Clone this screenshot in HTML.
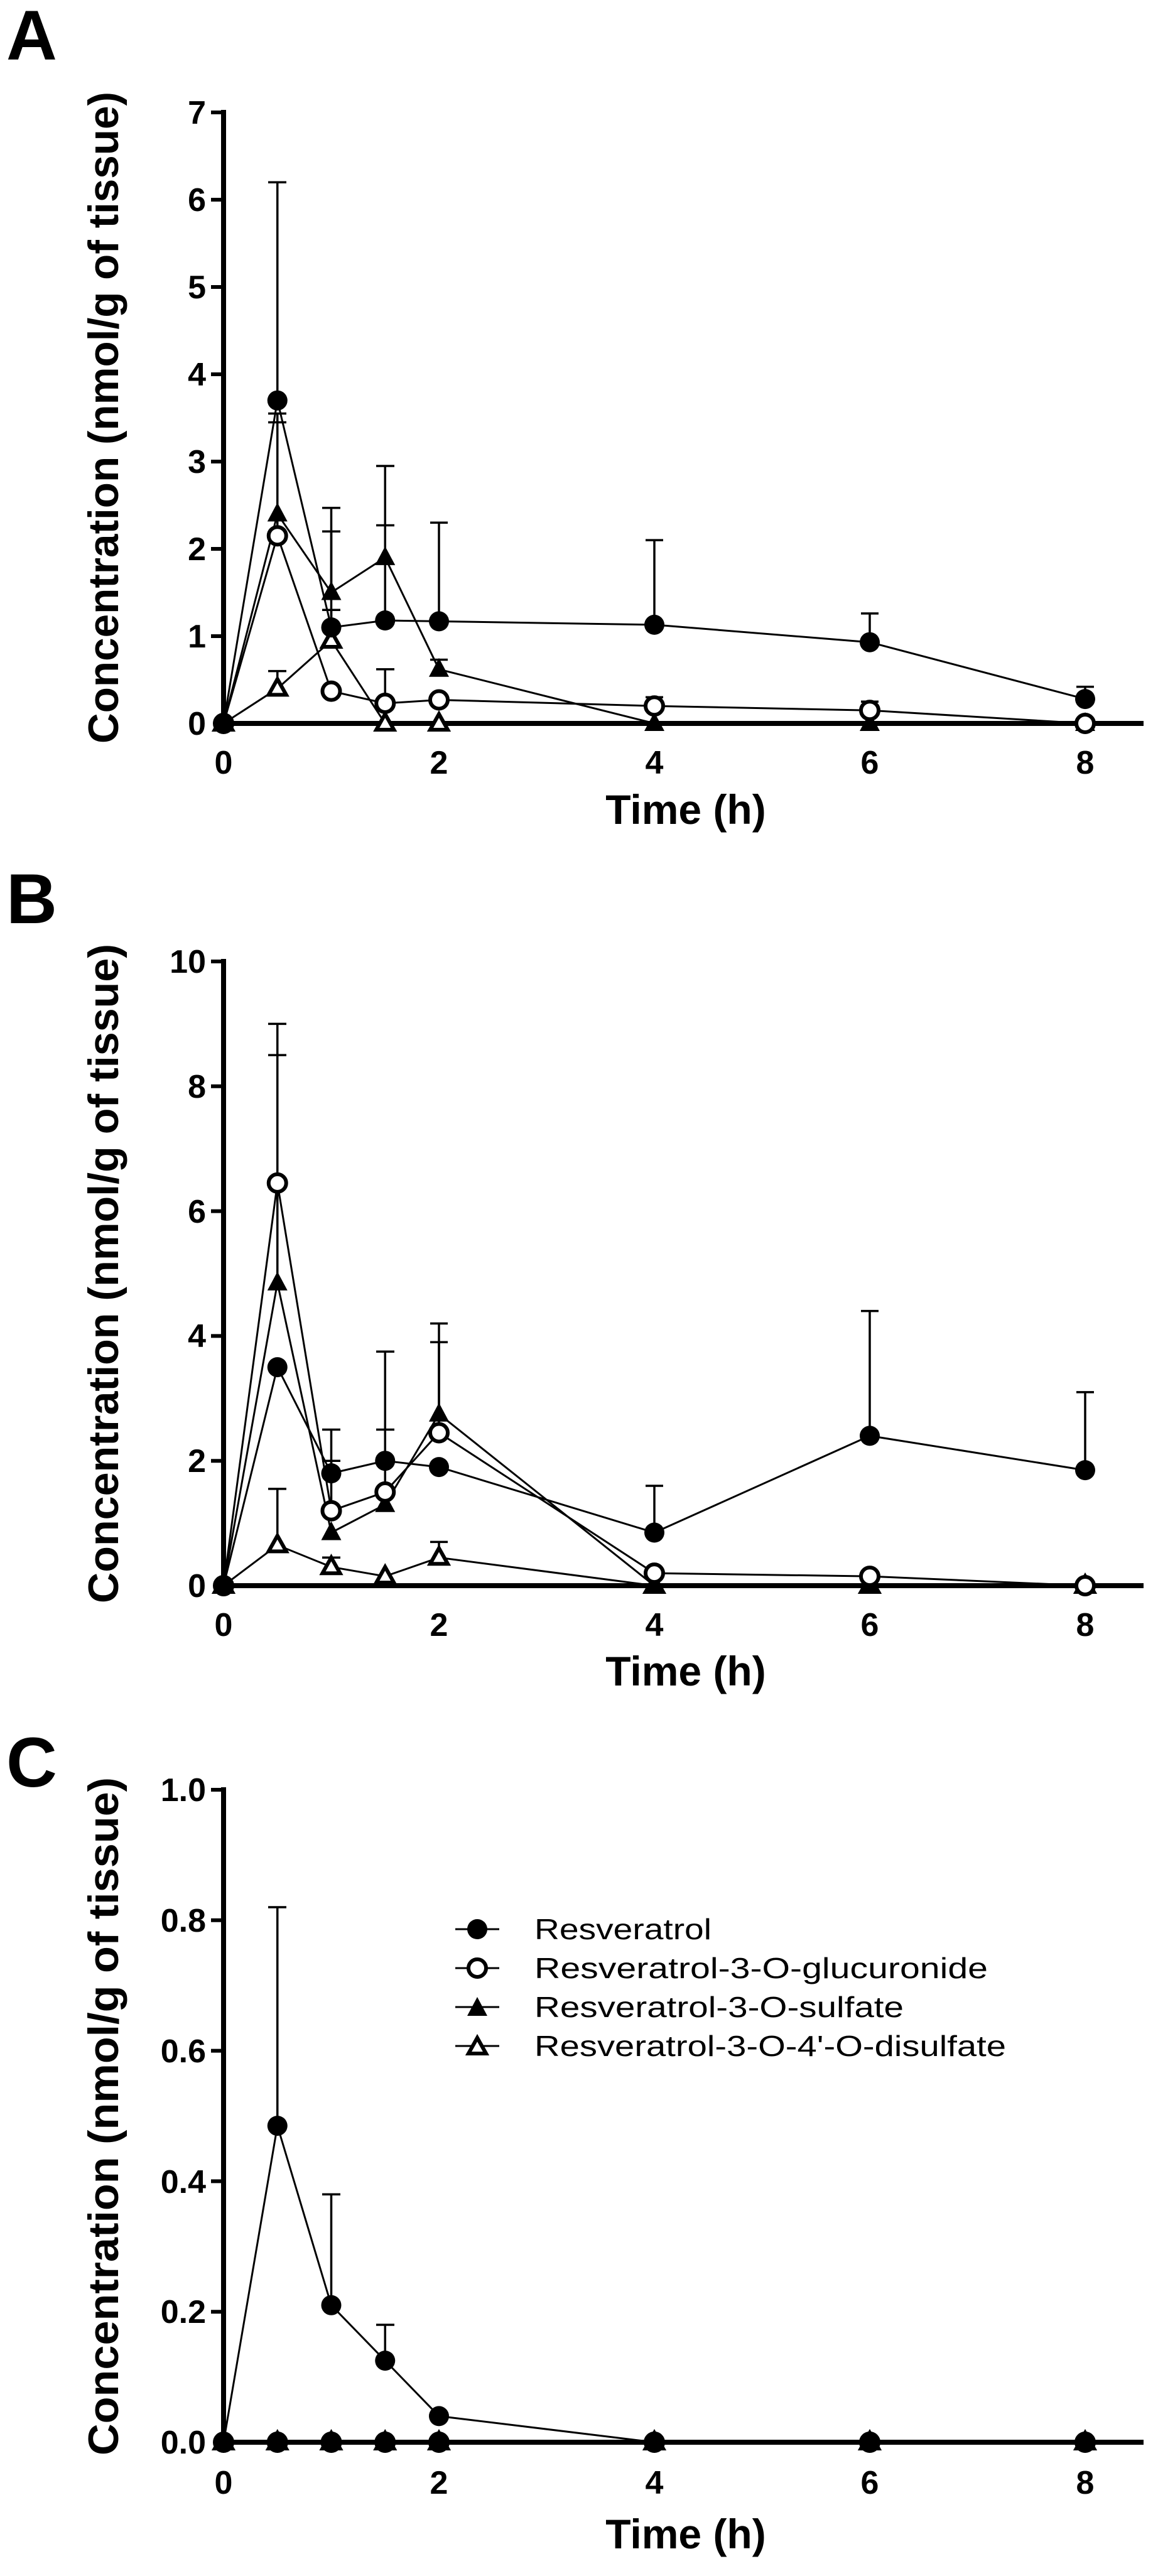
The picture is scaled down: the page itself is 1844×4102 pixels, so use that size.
<!DOCTYPE html>
<html><head><meta charset="utf-8"><style>
html,body{margin:0;padding:0;background:#fff;}
svg{display:block;}
text{font-family:"Liberation Sans",Arial,sans-serif;fill:#000;}
.tk{font-size:52px;font-weight:bold;}
.yt{font-size:68px;font-weight:bold;}
.xt{font-size:66px;font-weight:bold;}
.pl{font-size:112px;font-weight:bold;}
.lg{font-size:46px;}
.ln{fill:none;stroke:#000;stroke-width:3;}
.ax{fill:none;stroke:#000;stroke-width:8;}
.tkl{stroke:#000;stroke-width:6;}
.eb{fill:none;stroke:#000;stroke-width:3.5;}
</style></head><body>
<svg width="1844" height="4102" viewBox="0 0 1844 4102" xmlns="http://www.w3.org/2000/svg">
<defs>
<g id="fc"><circle r="16" fill="#000"/></g>
<g id="oc"><circle r="14" fill="#fff" stroke="#000" stroke-width="6"/></g>
<g id="ft"><path d="M0,-18 L16,12 L-16,12 Z" fill="#000"/></g>
<g id="ot"><path d="M0,-15 L14,10 L-14,10 Z" fill="#fff" stroke="#000" stroke-width="6" stroke-linejoin="miter"/></g>
</defs>

<!-- ================= PANEL A ================= -->
<text class="pl" x="10" y="95">A</text>
<text class="yt" transform="translate(188,665) rotate(-90)" text-anchor="middle" textLength="1038" lengthAdjust="spacingAndGlyphs">Concentration (nmol/g of tissue)</text>
<path class="ax" d="M356,175 L356,1152 L1821,1152"/>
<g class="tkl">
<line x1="336" y1="179" x2="356" y2="179"/><line x1="336" y1="318" x2="356" y2="318"/>
<line x1="336" y1="457" x2="356" y2="457"/><line x1="336" y1="596" x2="356" y2="596"/>
<line x1="336" y1="735" x2="356" y2="735"/><line x1="336" y1="874" x2="356" y2="874"/>
<line x1="336" y1="1013" x2="356" y2="1013"/>
</g>
<g class="tk" text-anchor="end">
<text x="328" y="197">7</text><text x="328" y="336">6</text><text x="328" y="475">5</text>
<text x="328" y="614">4</text><text x="328" y="753">3</text><text x="328" y="892">2</text>
<text x="328" y="1031">1</text><text x="328" y="1170">0</text>
</g>
<g class="tk" text-anchor="middle">
<text x="356" y="1232">0</text><text x="699" y="1232">2</text><text x="1042" y="1232">4</text>
<text x="1385" y="1232">6</text><text x="1728" y="1232">8</text>
</g>
<text class="xt" x="1092" y="1312" text-anchor="middle">Time (h)</text>
<g class="eb">
<path d="M441.75,637.7 V290.2 M427,290.2 H456"/>
<path d="M527.5,999.1 V846.2 M513,846.2 H542"/>
<path d="M613.25,988 V836.5 M599,836.5 H628"/>
<path d="M699,989.4 V832.3 M685,832.3 H713"/>
<path d="M1042,994.9 V860.1 M1028,860.1 H1056"/>
<path d="M1385,1022.7 V976.9 M1371,976.9 H1399"/>
<path d="M1728,1113.1 V1093.6 M1714,1093.6 H1742"/>
<path d="M441.75,853.2 V658.5 M427,658.5 H456"/>
<path d="M613.25,1120 V1065.8 M599,1065.8 H628"/>
<path d="M1042,1124.2 V1110.3 M1028,1110.3 H1056"/>
<path d="M1385,1131.2 V1117.3 M1371,1117.3 H1399"/>
<path d="M441.75,818.4 V672.5 M427,672.5 H456"/>
<path d="M527.5,943.5 V808.7 M513,808.7 H542"/>
<path d="M613.25,887.9 V742 M599,742 H628"/>
<path d="M699,1065.8 V1050.5 M685,1050.5 H713"/>
<path d="M441.75,1096.4 V1068.6 M427,1068.6 H456"/>
<path d="M527.5,1020 V971.3 M513,971.3 H542"/>
</g>
<polyline class="ln" points="356,1152 441.75,637.7 527.5,999.1 613.25,988 699,989.4 1042,994.9 1385,1022.7 1728,1113.1"/>
<polyline class="ln" points="356,1152 441.75,853.2 527.5,1100.6 613.25,1120 699,1114.5 1042,1124.2 1385,1131.2 1728,1152"/>
<polyline class="ln" points="356,1152 441.75,818.4 527.5,943.5 613.25,887.9 699,1065.8 1042,1152 1385,1152 1728,1152"/>
<polyline class="ln" points="356,1152 441.75,1096.4 527.5,1020 613.25,1152 699,1152 1042,1152 1385,1152 1728,1152"/>
<use href="#ot" x="356" y="1152"/><use href="#ot" x="441.75" y="1096.4"/><use href="#ot" x="527.5" y="1020"/><use href="#ot" x="613.25" y="1152"/><use href="#ot" x="699" y="1152"/>
<use href="#ft" x="356" y="1152"/><use href="#ft" x="441.75" y="818.4"/><use href="#ft" x="527.5" y="943.5"/><use href="#ft" x="613.25" y="887.9"/><use href="#ft" x="699" y="1065.8"/><use href="#ft" x="1042" y="1152"/><use href="#ft" x="1385" y="1152"/><use href="#ft" x="1728" y="1152"/>
<use href="#oc" x="356" y="1152"/><use href="#oc" x="441.75" y="853.2"/><use href="#oc" x="527.5" y="1100.6"/><use href="#oc" x="613.25" y="1120"/><use href="#oc" x="699" y="1114.5"/><use href="#oc" x="1042" y="1124.2"/><use href="#oc" x="1385" y="1131.2"/><use href="#oc" x="1728" y="1152"/>
<use href="#fc" x="356" y="1152"/><use href="#fc" x="441.75" y="637.7"/><use href="#fc" x="527.5" y="999.1"/><use href="#fc" x="613.25" y="988"/><use href="#fc" x="699" y="989.4"/><use href="#fc" x="1042" y="994.9"/><use href="#fc" x="1385" y="1022.7"/><use href="#fc" x="1728" y="1113.1"/>

<!-- ================= PANEL B ================= -->
<text class="pl" x="10" y="1470">B</text>
<text class="yt" transform="translate(188,2028) rotate(-90)" text-anchor="middle" textLength="1050" lengthAdjust="spacingAndGlyphs">Concentration (nmol/g of tissue)</text>
<path class="ax" d="M356,1527 L356,2525 L1821,2525"/>
<g class="tkl">
<line x1="336" y1="1531" x2="356" y2="1531"/><line x1="336" y1="1729.8" x2="356" y2="1729.8"/>
<line x1="336" y1="1928.6" x2="356" y2="1928.6"/><line x1="336" y1="2127.4" x2="356" y2="2127.4"/>
<line x1="336" y1="2326.2" x2="356" y2="2326.2"/>
</g>
<g class="tk" text-anchor="end">
<text x="328" y="1549">10</text><text x="328" y="1748">8</text><text x="328" y="1947">6</text>
<text x="328" y="2145">4</text><text x="328" y="2344">2</text><text x="328" y="2543">0</text>
</g>
<g class="tk" text-anchor="middle">
<text x="356" y="2605">0</text><text x="699" y="2605">2</text><text x="1042" y="2605">4</text>
<text x="1385" y="2605">6</text><text x="1728" y="2605">8</text>
</g>
<text class="xt" x="1092" y="2684" text-anchor="middle">Time (h)</text>
<g class="eb">
<path d="M441.75,1883.9 V1630.4 M427,1630.4 H456"/>
<path d="M441.75,2042.9 V1680.1 M427,1680.1 H456"/>
<path d="M441.75,2460.4 V2370.9 M427,2370.9 H456"/>
<path d="M527.5,2346.1 V2276.5 M513,2276.5 H542"/>
<path d="M527.5,2405.7 V2326.2 M513,2326.2 H542"/>
<path d="M527.5,2495.2 V2480.3 M513,2480.3 H542"/>
<path d="M613.25,2375.9 V2152.3 M599,2152.3 H628"/>
<path d="M613.25,2326.2 V2276.5 M599,2276.5 H628"/>
<path d="M699,2281.5 V2107.5 M685,2107.5 H713"/>
<path d="M699,2251.7 V2137.3 M685,2137.3 H713"/>
<path d="M699,2480.3 V2455.4 M685,2455.4 H713"/>
<path d="M1042,2440.5 V2366 M1028,2366 H1056"/>
<path d="M1385,2286.4 V2087.6 M1371,2087.6 H1399"/>
<path d="M1728,2341.1 V2216.9 M1714,2216.9 H1742"/>
</g>
<polyline class="ln" points="356,2525 441.75,2177.1 527.5,2346.1 613.25,2326.2 699,2336.1 1042,2440.5 1385,2286.4 1728,2341.1"/>
<polyline class="ln" points="356,2525 441.75,1883.9 527.5,2405.7 613.25,2375.9 699,2281.5 1042,2505.1 1385,2510.1 1728,2525"/>
<polyline class="ln" points="356,2525 441.75,2042.9 527.5,2440.5 613.25,2395.8 699,2251.7 1042,2525 1385,2525 1728,2525"/>
<polyline class="ln" points="356,2525 441.75,2460.4 527.5,2495.2 613.25,2510.1 699,2480.3 1042,2525 1385,2525 1728,2525"/>
<use href="#ot" x="356" y="2525"/><use href="#ot" x="441.75" y="2460.4"/><use href="#ot" x="527.5" y="2495.2"/><use href="#ot" x="613.25" y="2510.1"/><use href="#ot" x="699" y="2480.3"/><use href="#ot" x="1042" y="2525"/><use href="#ot" x="1385" y="2525"/><use href="#ot" x="1728" y="2525"/>
<use href="#ft" x="356" y="2525"/><use href="#ft" x="441.75" y="2042.9"/><use href="#ft" x="527.5" y="2440.5"/><use href="#ft" x="613.25" y="2395.8"/><use href="#ft" x="699" y="2251.7"/><use href="#ft" x="1042" y="2525"/><use href="#ft" x="1385" y="2525"/><use href="#ft" x="1728" y="2525"/>
<use href="#oc" x="356" y="2525"/><use href="#oc" x="441.75" y="1883.9"/><use href="#oc" x="527.5" y="2405.7"/><use href="#oc" x="613.25" y="2375.9"/><use href="#oc" x="699" y="2281.5"/><use href="#oc" x="1042" y="2505.1"/><use href="#oc" x="1385" y="2510.1"/><use href="#oc" x="1728" y="2525"/>
<use href="#fc" x="356" y="2525"/><use href="#fc" x="441.75" y="2177.1"/><use href="#fc" x="527.5" y="2346.1"/><use href="#fc" x="613.25" y="2326.2"/><use href="#fc" x="699" y="2336.1"/><use href="#fc" x="1042" y="2440.5"/><use href="#fc" x="1385" y="2286.4"/><use href="#fc" x="1728" y="2341.1"/>

<!-- ================= PANEL C ================= -->
<text class="pl" x="10" y="2845">C</text>
<text class="yt" transform="translate(188,3370) rotate(-90)" text-anchor="middle" textLength="1080" lengthAdjust="spacingAndGlyphs">Concentration (nmol/g of tissue)</text>
<path class="ax" d="M356,2846 L356,3889 L1821,3889"/>
<g class="tkl">
<line x1="336" y1="2850" x2="356" y2="2850"/><line x1="336" y1="3057.8" x2="356" y2="3057.8"/>
<line x1="336" y1="3265.6" x2="356" y2="3265.6"/><line x1="336" y1="3473.4" x2="356" y2="3473.4"/>
<line x1="336" y1="3681.2" x2="356" y2="3681.2"/>
</g>
<g class="tk" text-anchor="end">
<text x="328" y="2868">1.0</text><text x="328" y="3076">0.8</text><text x="328" y="3284">0.6</text>
<text x="328" y="3492">0.4</text><text x="328" y="3699">0.2</text><text x="328" y="3907">0.0</text>
</g>
<g class="tk" text-anchor="middle">
<text x="356" y="3971">0</text><text x="699" y="3971">2</text><text x="1042" y="3971">4</text>
<text x="1385" y="3971">6</text><text x="1728" y="3971">8</text>
</g>
<text class="xt" x="1092" y="4058" text-anchor="middle">Time (h)</text>
<g class="eb">
<path d="M441.75,3385.1 V3037 M427,3037 H456"/>
<path d="M527.5,3670.8 V3494.2 M513,3494.2 H542"/>
<path d="M613.25,3759.1 V3702 M599,3702 H628"/>
</g>
<polyline class="ln" points="356,3889 441.75,3385.1 527.5,3670.8 613.25,3759.1 699,3847.4 1042,3889 1385,3889 1728,3889"/>
<use href="#ot" x="356" y="3889"/><use href="#ot" x="441.75" y="3889"/><use href="#ot" x="527.5" y="3889"/><use href="#ot" x="613.25" y="3889"/><use href="#ot" x="699" y="3889"/><use href="#ot" x="1042" y="3889"/><use href="#ot" x="1385" y="3889"/><use href="#ot" x="1728" y="3889"/>
<use href="#ft" x="356" y="3889"/><use href="#ft" x="441.75" y="3889"/><use href="#ft" x="527.5" y="3889"/><use href="#ft" x="613.25" y="3889"/><use href="#ft" x="699" y="3889"/><use href="#ft" x="1042" y="3889"/><use href="#ft" x="1385" y="3889"/><use href="#ft" x="1728" y="3889"/>
<use href="#oc" x="356" y="3889"/><use href="#oc" x="441.75" y="3889"/><use href="#oc" x="527.5" y="3889"/><use href="#oc" x="613.25" y="3889"/><use href="#oc" x="699" y="3889"/><use href="#oc" x="1042" y="3889"/><use href="#oc" x="1385" y="3889"/><use href="#oc" x="1728" y="3889"/>
<use href="#fc" x="356" y="3889"/><use href="#fc" x="441.75" y="3889"/><use href="#fc" x="527.5" y="3889"/><use href="#fc" x="613.25" y="3889"/><use href="#fc" x="699" y="3889"/><use href="#fc" x="1042" y="3889"/><use href="#fc" x="1385" y="3889"/><use href="#fc" x="1728" y="3889"/>
<use href="#fc" x="441.75" y="3385.1"/><use href="#fc" x="527.5" y="3670.8"/><use href="#fc" x="613.25" y="3759.1"/><use href="#fc" x="699" y="3847.4"/>

<!-- legend -->
<g class="ln"><line x1="725" y1="3072" x2="795" y2="3072"/><line x1="725" y1="3134" x2="795" y2="3134"/><line x1="725" y1="3196" x2="795" y2="3196"/><line x1="725" y1="3258" x2="795" y2="3258"/></g>
<use href="#fc" x="760" y="3072"/>
<use href="#oc" x="760" y="3134"/>
<use href="#ft" x="760" y="3198"/>
<use href="#ot" x="760" y="3260"/>
<g class="lg">
<text x="851" y="3088" textLength="282" lengthAdjust="spacingAndGlyphs">Resveratrol</text>
<text x="851" y="3150" textLength="722" lengthAdjust="spacingAndGlyphs">Resveratrol-3-O-glucuronide</text>
<text x="851" y="3212" textLength="588" lengthAdjust="spacingAndGlyphs">Resveratrol-3-O-sulfate</text>
<text x="851" y="3274" textLength="751" lengthAdjust="spacingAndGlyphs">Resveratrol-3-O-4'-O-disulfate</text>
</g>
</svg>
</body></html>
